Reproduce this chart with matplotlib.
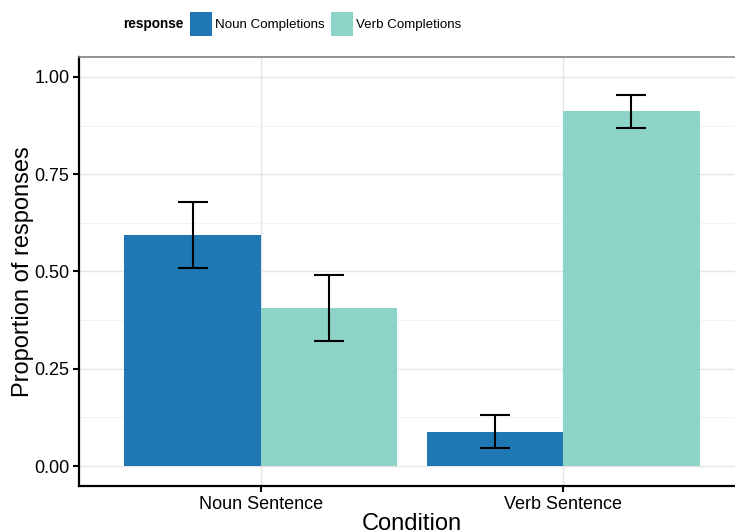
import matplotlib
matplotlib.use("Agg")
import matplotlib.pyplot as plt
import numpy as np

plt.rcParams['font.family'] = ['Liberation Sans', 'DejaVu Sans']

conditions = ["Noun Sentence", "Verb Sentence"]
responses = ["Noun Completions", "Verb Completions"]
colors = ["#1F78B4", "#8DD3C7"]
means = {"Noun Completions": [0.594, 0.088],
         "Verb Completions": [0.406, 0.912]}
lower = {"Noun Completions": [0.509, 0.047],
         "Verb Completions": [0.321, 0.869]}
upper = {"Noun Completions": [0.679, 0.131],
         "Verb Completions": [0.492, 0.954]}
yticks = [0.0, 0.25, 0.5, 0.75, 1.0]

fig = plt.figure(figsize=(7.35, 5.31), dpi=100)
ax = fig.add_axes([79/735, 45/531, 1 - 79/735, 429/531])

x = np.arange(1, len(conditions) + 1)
w = 0.45
for i, r in enumerate(responses):
    xs = x + (i - 0.5) * w
    m = np.array(means[r])
    ax.bar(xs, m, width=w, color=colors[i], label=r, zorder=2)
    err = [m - np.array(lower[r]), np.array(upper[r]) - m]
    ax.errorbar(xs, m, yerr=err, fmt='none', ecolor='black', elinewidth=1.5,
                capsize=11, capthick=1.5, zorder=3)

ax.set_xlim(0.4, 2.567)
ax.set_ylim(-0.0514, 1.0514)
ax.set_xticks(x)
ax.set_xticklabels(conditions)
ax.set_yticks(yticks)
ax.set_yticklabels([f"{v:.2f}" for v in yticks])
ax.set_yticks(np.arange(0.125, 1.0, 0.25), minor=True)
ax.grid(True, which='major', color='#E5E5E5', linewidth=1.0, zorder=0)
ax.grid(True, which='minor', axis='y', color='#F3F3F3', linewidth=0.8, zorder=0)
ax.set_axisbelow(True)
ax.tick_params(axis='both', which='major', labelsize=13, length=4, width=1.5,
               colors='black', pad=3)
ax.tick_params(axis='both', which='minor', length=0)

for s in ['left', 'bottom']:
    ax.spines[s].set_linewidth(1.6)
    ax.spines[s].set_color('black')
ax.spines['top'].set_color('#808080')
ax.spines['top'].set_linewidth(1.2)
ax.spines['right'].set_visible(False)

ax.set_ylabel("Proportion of responses", fontsize=17, labelpad=0)
ax.set_xlabel("Condition", fontsize=17, labelpad=1)
ax.xaxis.set_label_coords((412 - 79) / 656, -0.062)

fig.text(123/735, 1 - 24/531, "response", fontsize=9.8, fontweight='bold',
         ha='left', va='center')
handles, labels = ax.get_legend_handles_labels()
fig.legend(handles, labels, loc='center left', bbox_to_anchor=(190/735, 1 - 24/531),
           ncol=2, frameon=False, fontsize=9.6,
           handlelength=1.65, handleheight=2.3, handletextpad=0.23,
           columnspacing=0.45, borderaxespad=0, borderpad=0)

fig.savefig("out.png", dpi=100)
